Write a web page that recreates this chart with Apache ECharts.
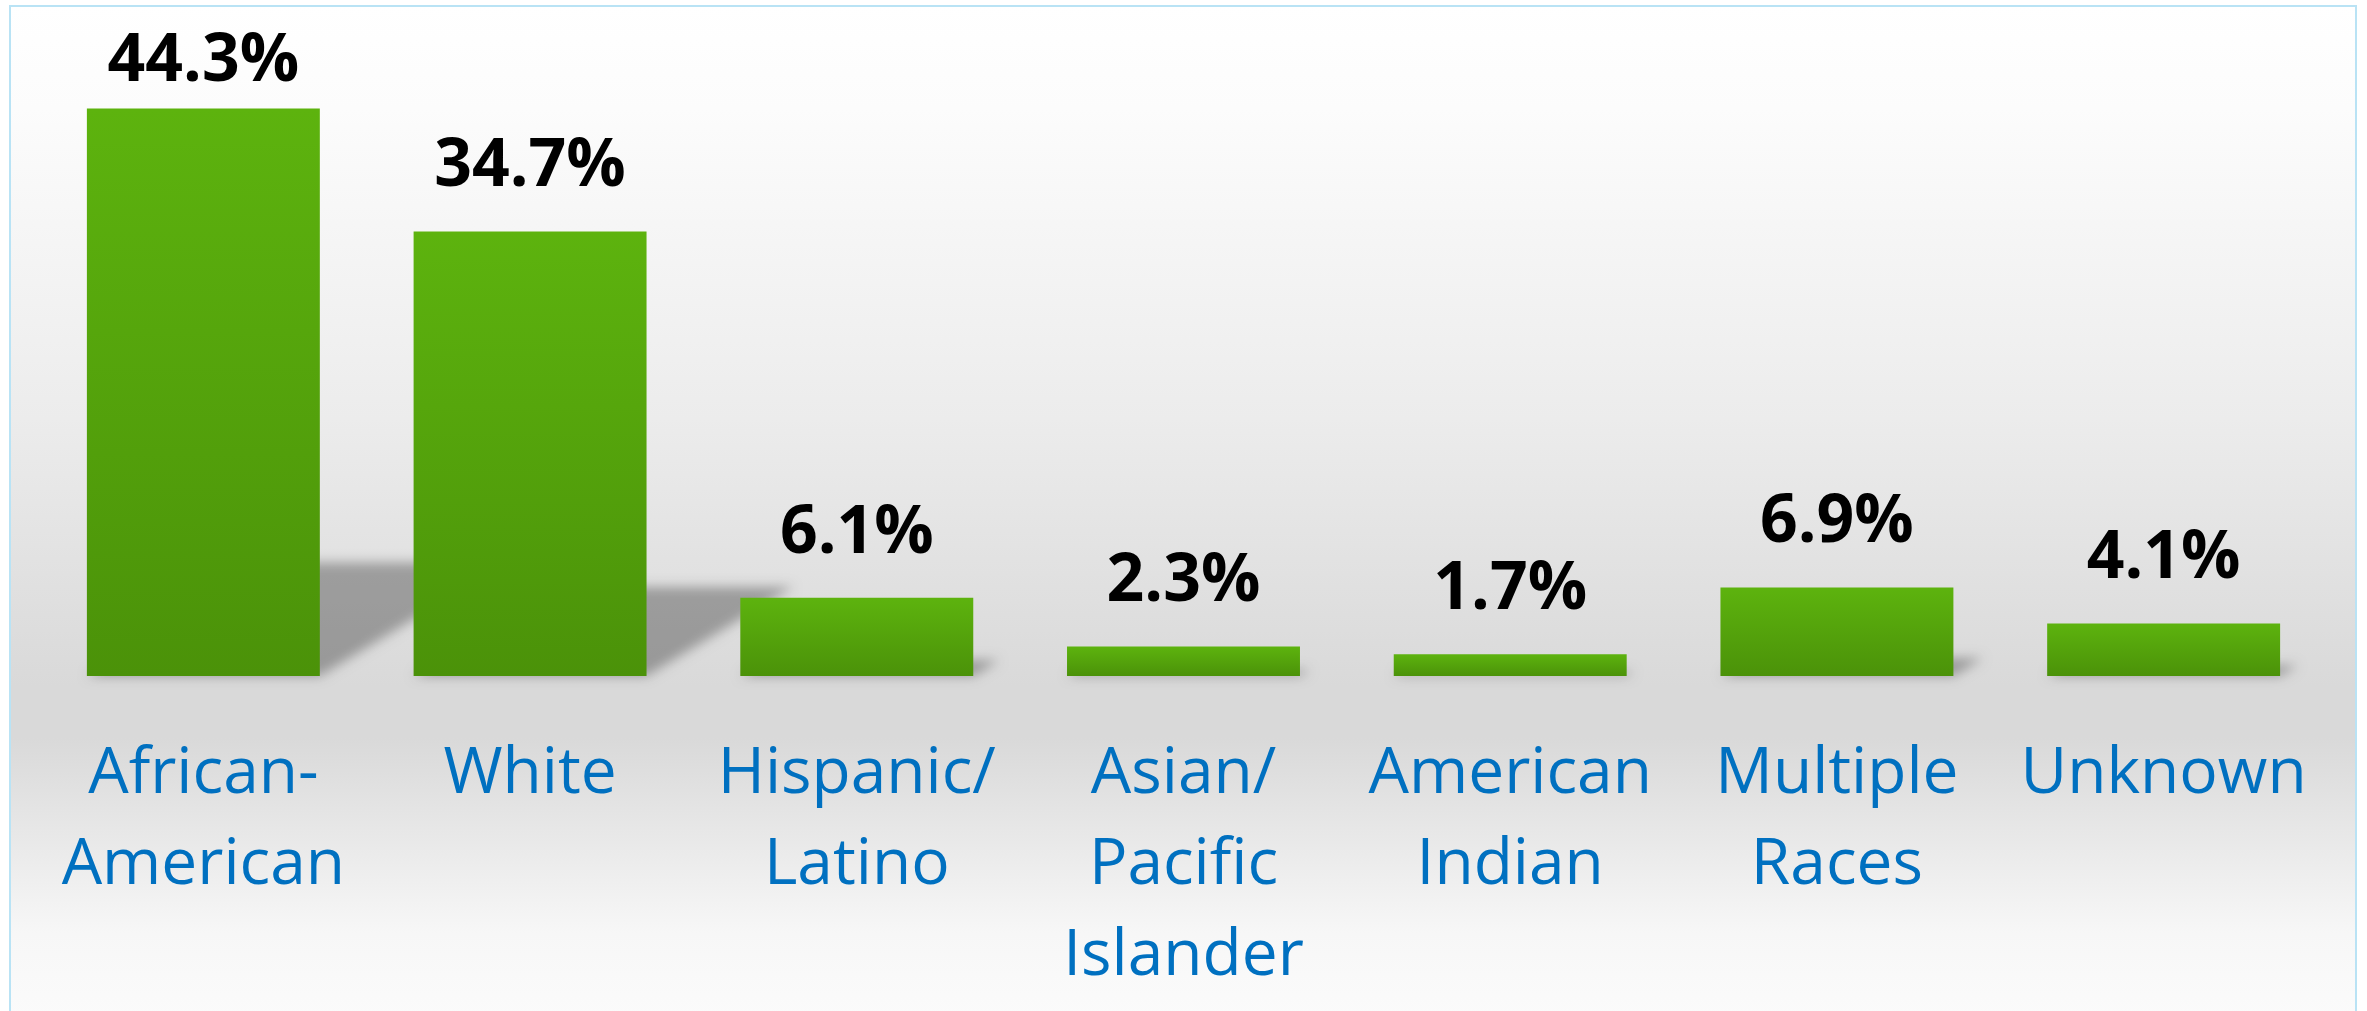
<!DOCTYPE html>
<html>
<head>
<meta charset="utf-8">
<script src="https://cdn.jsdelivr.net/npm/echarts@6/dist/echarts.min.js"></script>
<style>
  html, body { margin: 0; padding: 0; background: #fff; }
  #chart { width: 2367px; height: 1011px; }
</style>
</head>
<body>
<div id="chart"></div>
<script>
// data
const categories = ['African-\nAmerican', 'White', 'Hispanic/\nLatino', 'Asian/\nPacific\nIslander', 'American\nIndian', 'Multiple\nRaces', 'Unknown'];
const shares = [44.3, 34.7, 6.1, 2.3, 1.7, 6.9, 4.1];

const chart = echarts.init(document.getElementById('chart'));

// floor shadow behind each bar, drawn from the same values.
// the polygon itself sits off to the left, only its blurred shadow shows
const OFF = 4000;
function renderShadow(params, api) {
  const idx = api.value(0);
  const val = api.value(1);
  const base = api.coord([idx, 0]);
  const top = api.coord([idx, val]);
  const w = api.size([1, 0])[0] * 0.713;
  const h = base[1] - top[1];
  const x0 = base[0] - w / 2 - OFF, x1 = base[0] + w / 2 - OFF;
  const dx = h * 0.33, dy = h * 0.2;
  return {
    type: 'polygon',
    shape: { points: [[x0, base[1]], [x1, base[1]], [x1 + dx, base[1] - dy], [x0 + dx, base[1] - dy]] },
    style: { fill: '#000', shadowBlur: 12, shadowOffsetX: OFF, shadowColor: 'rgba(0,0,0,0.3)' }
  };
}

const option = {
  animation: false,
  backgroundColor: 'transparent',
  graphic: [{
    type: 'rect',
    z: -10,
    silent: true,
    shape: { x: 10, y: 6, width: 2346, height: 1030 },
    style: {
      stroke: '#b9e3f5',
      lineWidth: 2,
      fill: new echarts.graphic.LinearGradient(0, 0, 0, 1, [
        { offset: 0, color: '#ffffff' },
        { offset: 0.1, color: '#fcfcfc' },
        { offset: 0.4, color: '#ececec' },
        { offset: 0.66, color: '#d9d9d9' },
        { offset: 0.71, color: '#d9d9d9' },
        { offset: 0.9, color: '#f7f7f7' },
        { offset: 1, color: '#fcfcfc' }
      ])
    }
  }],
  grid: { left: 40, right: 40, top: 35.5, bottom: 335, containLabel: false },
  xAxis: {
    type: 'category',
    data: categories,
    axisLine: { show: false },
    axisTick: { show: false },
    axisLabel: {
      interval: 0,
      margin: 53,
      color: '#0070C0',
      fontFamily: 'Open Sans',
      fontSize: 64,
      lineHeight: 91
    }
  },
  yAxis: {
    type: 'value',
    min: 0,
    max: 50,
    show: false,
    splitLine: { show: false }
  },
  series: [
    {
      type: 'custom',
      z: 1,
      silent: true,
      clip: false,
      renderItem: renderShadow,
      encode: { x: 0, y: 1 },
      data: shares.map((v, i) => [i, v])
    },
    {
      type: 'bar',
      z: 3,
      barCategoryGap: '28.7%',
      data: shares.map((v, i) => i === 0 ? { value: v, label: { distance: 13 } } : v),
      itemStyle: {
        color: new echarts.graphic.LinearGradient(0, 0, 0, 1, [
          { offset: 0, color: '#5db30e' },
          { offset: 1, color: '#4b9209' }
        ])
      },
      label: {
        show: true,
        position: 'top',
        distance: 31,
        formatter: p => p.value.toFixed(1) + '%',
        color: '#000',
        fontFamily: 'Open Sans',
        fontWeight: 'bold',
        fontSize: 66
      }
    }
  ]
};

chart.setOption(option);
</script>
</body>
</html>
